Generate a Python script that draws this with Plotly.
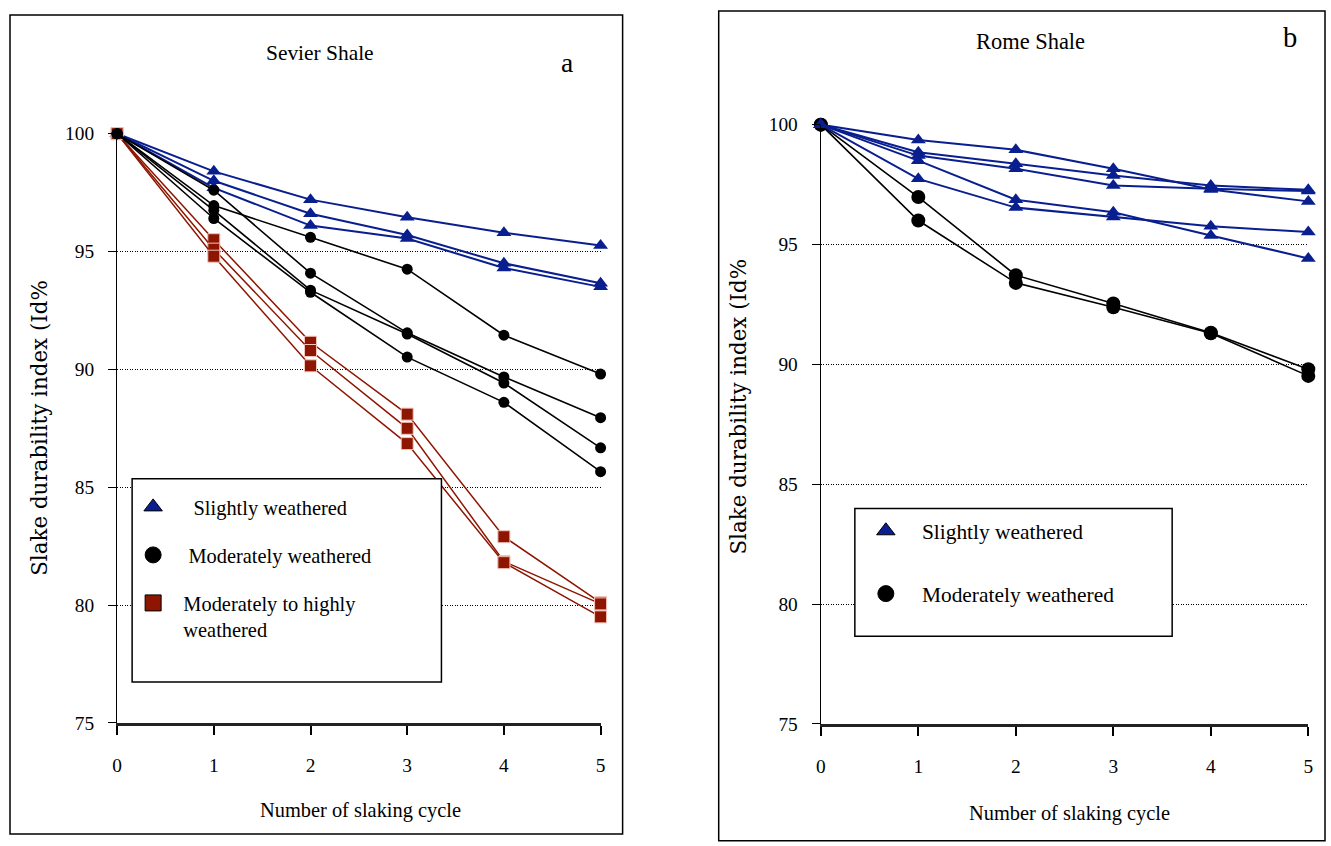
import plotly.graph_objects as go

W, H = 1331, 846

cycles = [0, 1, 2, 3, 4, 5]

# Sevier Shale (panel a)
sevier_slight = [
    [100, 98.4, 97.2, 96.45, 95.8, 95.25],
    [100, 98.0, 96.6, 95.7, 94.5, 93.65],
    [100, 97.7, 96.1, 95.55, 94.3, 93.5],
]
sevier_moderate = [
    [100, 96.95, 95.6, 94.25, 91.45, 89.8],
    [100, 97.6, 94.08, 91.55, 89.68, 87.95],
    [100, 96.75, 93.36, 91.5, 89.42, 86.67],
    [100, 96.4, 93.27, 90.52, 88.6, 85.66],
]
sevier_high = [
    [100, 95.5, 91.15, 88.1, 82.9, 80.1],
    [100, 95.1, 90.8, 87.5, 81.85, 80.05],
    [100, 94.8, 90.15, 86.85, 81.8, 79.5],
]

# Rome Shale (panel b)
rome_slight = [
    [100, 99.36, 98.95, 98.16, 97.3, 96.8],
    [100, 98.85, 98.37, 97.88, 97.46, 97.28],
    [100, 98.71, 98.16, 97.46, 97.33, 97.23],
    [100, 98.5, 96.87, 96.35, 95.38, 94.42],
    [100, 97.74, 96.54, 96.15, 95.76, 95.52],
]
rome_moderate = [
    [100, 96.98, 93.72, 92.54, 91.32, 89.8],
    [100, 96.0, 93.4, 92.38, 91.3, 89.52],
]

x_ticks = [0, 1, 2, 3, 4, 5]
y_ticks = [75, 80, 85, 90, 95, 100]

BLUE = "#0A1F8F"
RED = "#8E1600"
BLACK = "#000000"
SERIF = "Liberation Serif"

# the photographed page appears slightly inset; map target pixels to figure pixels
SX, OX = 0.9915, 5.0
SY, OY = 0.978, 9.0
FS = 1.02  # font size compensation

def fx(p):
    return (p - OX) / SX

def fy(p):
    return (p - OY) / SY

def px_x(p, raw=False):
    return (p if raw else fx(p)) / W

def px_y(p, raw=False):
    return 1 - (p if raw else fy(p)) / H

fig = go.Figure()

def add_series(data, xa, ya, color, symbol, size, lw, mline=None):
    for s in data:
        fig.add_trace(go.Scatter(
            x=cycles, y=s, xaxis=xa, yaxis=ya, mode="lines+markers",
            line=dict(color=color, width=lw),
            marker=dict(symbol=symbol, size=size, color=color,
                        line=mline or dict(width=0)),
            cliponaxis=False, showlegend=False, hoverinfo="x+y"))

# Left panel: blue, red, black (black on top)
add_series(sevier_slight, "x", "y", BLUE, "triangle-up", 13, 2)
add_series(sevier_high, "x", "y", RED, "square", 12, 1.5, dict(color="#f2c4bc", width=1))
add_series(sevier_moderate, "x", "y", BLACK, "circle", 11, 1.6)
# Right panel: black first, then blue
add_series(rome_moderate, "x2", "y2", BLACK, "circle", 14, 1.6)
add_series(rome_slight, "x2", "y2", BLUE, "triangle-up", 13, 2)

# Legend entries
def legend_entry(name, color, symbol, legend, group, xa, ya):
    fig.add_trace(go.Scatter(
        x=[None], y=[None], xaxis=xa, yaxis=ya, mode="markers", name=name,
        marker=dict(symbol=symbol, size=16, color=color,
                    line=dict(color="#000000", width=1)),
        legend=legend, legendgroup=group, showlegend=True))

NB = "\u00a0"
legend_entry(NB * 4 + "Slightly weathered", BLUE, "triangle-up", "legend", "a1", "x", "y")
legend_entry(NB * 3 + "Moderately weathered", BLACK, "circle", "legend", "a2", "x", "y")
legend_entry(NB * 2 + "Moderately to highly<br>" + NB * 2 + "weathered", RED, "square", "legend", "a3", "x", "y")
legend_entry(NB * 3 + "Slightly weathered", BLUE, "triangle-up", "legend2", "b1", "x2", "y2")
legend_entry(NB * 3 + "Moderately weathered", BLACK, "circle", "legend2", "b2", "x2", "y2")

tickfont = dict(family=SERIF, size=19 * FS, color="black")

def xaxis_cfg(x0, x1, anchor):
    return dict(domain=[px_x(x0), px_x(x1)], anchor=anchor, range=[0, 5],
                tickvals=x_ticks, ticks="outside", ticklen=9, tickwidth=1.5,
                tickcolor="black", showline=True, linecolor="#222222", linewidth=2.5,
                showgrid=False, zeroline=False, tickfont=tickfont,
                ticklabelstandoff=14, fixedrange=True)

def yaxis_cfg(y0, y1, anchor):
    return dict(domain=[px_y(y1), px_y(y0)], anchor=anchor, range=[75, 100],
                tickvals=y_ticks, ticks="outside", ticklen=8, tickwidth=1.2,
                tickcolor="black", showline=True, linecolor="black", linewidth=1.3,
                showgrid=True, gridcolor="black", gridwidth=1, griddash="1px,1.5px",
                zeroline=False, tickfont=tickfont, ticklabelstandoff=10,
                fixedrange=True)

def rect(x0, x1, y0, y1, fill=None, layer="below"):
    d = dict(type="rect", xref="paper", yref="paper",
             x0=x0 / W, x1=x1 / W, y0=1 - y1 / H, y1=1 - y0 / H,
             line=dict(color="black", width=1.5), layer=layer)
    if fill:
        d["fillcolor"] = fill
    return d

shapes = [
    # outer panel frames (figure pixels, clamped to the visible page)
    rect(fx(10), fx(622), max(fy(14), 1), min(fy(843), 845)),
    rect(fx(718), min(fx(1329), 1330), 1, 852),
    # legend boxes
    rect(fx(132), fx(441), fy(479), fy(683), fill="white", layer="above"),
    rect(fx(854), fx(1171), fy(509), fy(637), fill="white", layer="above"),
]

def ann(text, x, y, size, family=SERIF, angle=0):
    return dict(text=text, x=px_x(x), y=px_y(y), xref="paper", yref="paper",
                showarrow=False, xanchor="center", yanchor="middle",
                textangle=angle, font=dict(family=family, size=size * FS, color="black"))

annotations = [
    ann("Sevier Shale", 320, 52, 21),
    ann("a", 566, 62, 27),
    ann("Rome Shale", 1029, 41, 22),
    ann("b", 1289, 37, 28),
    ann("Number of slaking cycle", 360, 812, 20),
    ann("Number of slaking cycle", 1068, 815, 20),
    ann("Slake durability index (Id%", 40, 428, 21, "DejaVu Serif", -90),
    ann("Slake durability index (Id%", 738, 407, 21, "DejaVu Serif", -90),
]

fig.update_layout(
    width=W, height=H, autosize=False, margin=dict(l=0, r=0, t=0, b=0, pad=0),
    paper_bgcolor="white", plot_bgcolor="white",
    xaxis=xaxis_cfg(117, 600, "y"),
    yaxis=yaxis_cfg(133, 724, "x"),
    xaxis2=xaxis_cfg(820, 1307, "y2"),
    yaxis2=yaxis_cfg(124, 725, "x2"),
    shapes=shapes, annotations=annotations,
    legend=dict(x=px_x(133), y=px_y(487.5), xanchor="left", yanchor="top",
                bgcolor="rgba(0,0,0,0)", borderwidth=0, tracegroupgap=18.5,
                valign="top", itemsizing="trace",
                font=dict(family=SERIF, size=20 * FS, color="black")),
    legend2=dict(x=px_x(865), y=px_y(510.8), xanchor="left", yanchor="top",
                 bgcolor="rgba(0,0,0,0)", borderwidth=0, tracegroupgap=32,
                 valign="top", itemsizing="trace",
                 font=dict(family=SERIF, size=21 * FS, color="black")),
    showlegend=True,
)

page_css = (
    "var s=document.createElement('style');"
    "s.textContent='html,body{margin:0;padding:0;overflow:hidden;width:1331px;height:846px;}';"
    "document.head.appendChild(s);"
)

fig.write_html(
    "out.html",
    config={"displayModeBar": False, "responsive": False},
    post_script=page_css,
)
